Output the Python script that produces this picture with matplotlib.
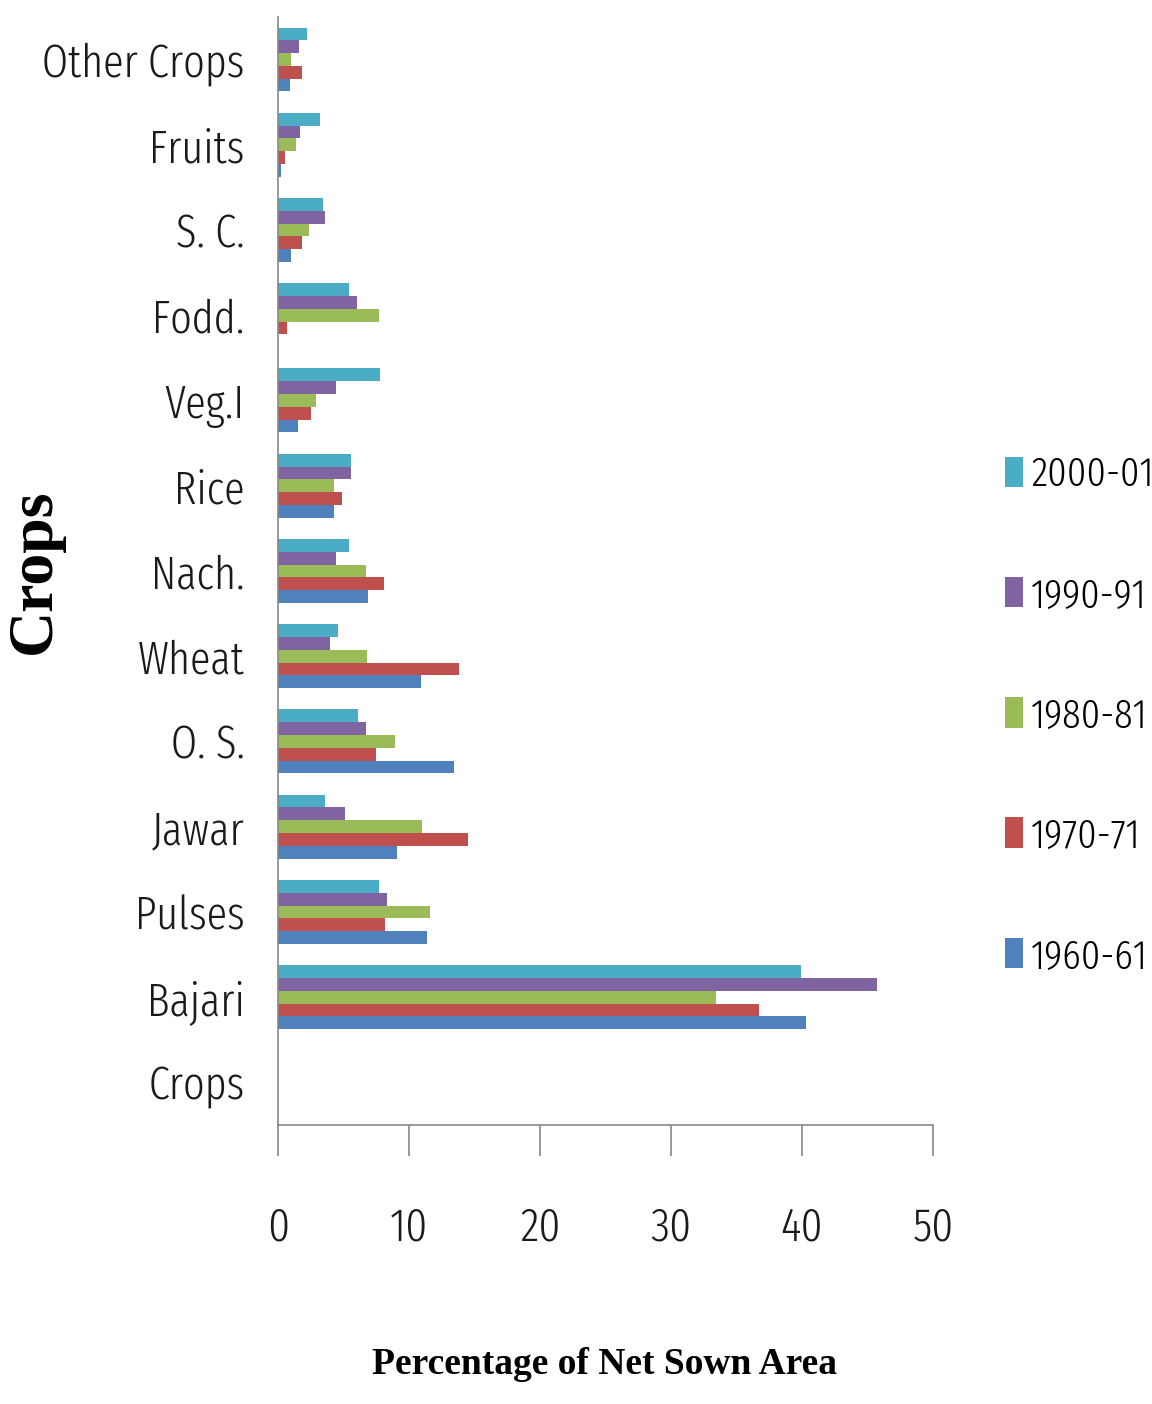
import matplotlib
matplotlib.use("Agg")
import matplotlib.pyplot as plt
import numpy as np

# crop categories, bottom to top as drawn ("Crops" row is empty in the source)
crops = ["Crops", "Bajari", "Pulses", "Jawar", "O. S.", "Wheat", "Nach.",
         "Rice", "Veg.I", "Fodd.", "S. C.", "Fruits", "Other Crops"]

years = ["1960-61", "1970-71", "1980-81", "1990-91", "2000-01"]

# percentage of net sown area, same order as crops
y1960 = [np.nan, 40.3, 11.4, 9.1, 13.4, 10.9, 6.9, 4.3, 1.5, 0.0, 1.0, 0.2, 0.9]
y1970 = [np.nan, 36.7, 8.2, 14.5, 7.5, 13.8, 8.1, 4.9, 2.5, 0.7, 1.8, 0.5, 1.8]
y1980 = [np.nan, 33.4, 11.6, 11.0, 8.9, 6.8, 6.7, 4.3, 2.9, 7.7, 2.4, 1.4, 1.0]
y1990 = [np.nan, 45.7, 8.3, 5.1, 6.7, 4.0, 4.4, 5.6, 4.4, 6.0, 3.6, 1.7, 1.6]
y2000 = [np.nan, 39.9, 7.7, 3.6, 6.1, 4.6, 5.4, 5.6, 7.8, 5.4, 3.4, 3.2, 2.2]

colors = ["#4F81BD", "#C0504D", "#9BBB59", "#8064A2", "#4BACC6"]

narrow = ["Fira Sans Extra Condensed", "Archivo Narrow", "Liberation Sans", "DejaVu Sans"]
serif = ["Liberation Serif", "DejaVu Serif"]

fig = plt.figure(figsize=(11.52, 14.04), dpi=100)
ax = fig.add_axes([0.2413, 0.1987, 0.5686, 0.7893])

pos = np.arange(len(crops))
h = 0.15
series = [y1960, y1970, y1980, y1990, y2000]
bars = []
for i, (vals, c, lab) in enumerate(zip(series, colors, years)):
    b = ax.barh(pos + (i - 2) * h, vals, height=h, color=c, label=lab)
    bars.append(b)

ax.set_xlim(0, 50)
ax.set_ylim(-0.5, len(crops) - 0.5)
ax.set_xticks(np.arange(0, 51, 10))
ax.set_yticks(pos)
ax.set_yticklabels(crops)

for s in ["top", "right"]:
    ax.spines[s].set_visible(False)
for s in ["left", "bottom"]:
    ax.spines[s].set_color("#888888")
    ax.spines[s].set_linewidth(1.2)

ax.tick_params(axis="x", direction="out", length=22, width=1.2, color="#888888",
               pad=36, labelsize=34)
ax.tick_params(axis="y", length=0, pad=24, labelsize=33)
for t in ax.get_xticklabels() + ax.get_yticklabels():
    t.set_family(narrow)
    t.set_fontweight(300)
    t.set_color("#1a1a1a")

fig.text(0.525, 0.028, "Percentage of Net Sown Area", ha="center", va="center",
         fontsize=27, fontweight="bold", family=serif)
fig.text(0.03, 0.593, "Crops", ha="center", va="center", rotation=90,
         fontsize=46, fontweight="bold", family=serif)

handles = bars[::-1]
leg = fig.legend(handles, years[::-1], loc="center left",
                 bbox_to_anchor=(0.858, 0.4904), frameon=False, borderaxespad=0,
                 prop={"family": narrow, "size": 30, "weight": 300},
                 labelspacing=1.95, handlelength=0.42, handleheight=0.75,
                 handletextpad=0.2)

fig.savefig("out.png", dpi=100, facecolor="white")
